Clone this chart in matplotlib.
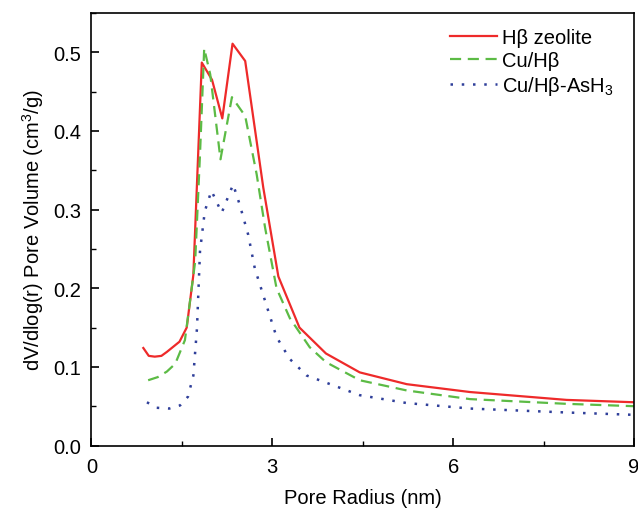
import numpy as np
import matplotlib
matplotlib.use('Agg')
import matplotlib.pyplot as plt
from matplotlib.ticker import MultipleLocator

plt.rcParams['font.family'] = ['Liberation Sans', 'DejaVu Sans']
plt.rcParams['mathtext.fontset'] = 'custom'
plt.rcParams['mathtext.rm'] = 'Liberation Sans'
plt.rcParams['mathtext.it'] = 'Liberation Sans:italic'

#pore radius (nm) and dV/dlog(r)
r_hb = [0.86, 0.95, 1.05, 1.16, 1.25, 1.46, 1.58, 1.69, 1.83, 2.0, 2.17, 2.34,
        2.55, 2.85, 3.1, 3.45, 3.89, 4.45, 5.23, 6.28, 7.88, 9.0]
v_hb = [0.124, 0.114, 0.113, 0.114, 0.119, 0.132, 0.150, 0.217, 0.487, 0.465,
        0.416, 0.511, 0.489, 0.328, 0.215, 0.150, 0.117, 0.093, 0.078, 0.068,
        0.058, 0.055]

r_cu = [0.94, 1.1, 1.25, 1.39, 1.55, 1.72, 1.80, 1.87, 1.97, 2.14, 2.33, 2.55,
        2.74, 2.88, 3.07, 3.29, 3.62, 3.89, 4.45, 5.23, 6.28, 7.88, 9.0]
v_cu = [0.083, 0.087, 0.094, 0.104, 0.134, 0.234, 0.370, 0.505, 0.472, 0.364,
        0.443, 0.419, 0.345, 0.277, 0.200, 0.162, 0.125, 0.106, 0.083, 0.070,
        0.059, 0.053, 0.050]

r_as = [0.92, 1.08, 1.29, 1.47, 1.6, 1.69, 1.75, 1.80, 1.88, 1.99, 2.16, 2.35,
        2.46, 2.6, 2.71, 2.9, 3.07, 3.29, 3.57, 3.89, 4.45, 5.23, 6.28, 7.88, 9.0]
v_as = [0.055, 0.048, 0.047, 0.051, 0.062, 0.089, 0.149, 0.247, 0.298, 0.324,
        0.296, 0.332, 0.306, 0.268, 0.225, 0.179, 0.138, 0.110, 0.089, 0.080,
        0.064, 0.054, 0.047, 0.042, 0.039]

labels = [u'H\u03b2 zeolite', u'Cu/H\u03b2', u'Cu/H\u03b2-AsH$\\mathregular{_3}$']

fig = plt.figure(figsize=(6.38, 5.1), dpi=100)
ax = fig.add_axes([0.1434, 0.1245, 0.8503, 0.848])

ax.plot(r_hb, v_hb, color='#ee2a2a', lw=1.6, ls='-', label=labels[0])
ax.plot(r_cu, v_cu, color='#5cbb45', lw=1.6, ls=(0, (5, 3)), label=labels[1])
ax.plot(r_as, v_as, color='#2f3f9a', lw=1.8, ls=(0, (1, 3.5)), label=labels[2])

ax.set_xlim(0, 9)
ax.set_ylim(0, 0.55)
ax.xaxis.set_major_locator(MultipleLocator(3))
ax.xaxis.set_minor_locator(MultipleLocator(1.5))
ax.yaxis.set_major_locator(MultipleLocator(0.1))
ax.yaxis.set_minor_locator(MultipleLocator(0.05))
ax.yaxis.set_major_formatter(matplotlib.ticker.FormatStrFormatter('%.1f'))
ax.tick_params(which='major', direction='in', length=6, width=1.2, labelsize=14.5)
ax.tick_params(axis='x', which='major', pad=8.5)
ax.tick_params(axis='y', which='major', pad=7.5)
ax.tick_params(which='minor', direction='in', length=3.5, width=1.0)
for s in ax.spines.values():
    s.set_linewidth(1.2)

ax.set_xlabel('Pore Radius (nm)', fontsize=14.5, labelpad=8.5)
ax.set_ylabel('dV/dlog(r) Pore Volume (cm$\\mathregular{^3}$/g)', fontsize=14.5, labelpad=5)

ax.legend(loc='upper right', frameon=False, fontsize=14.5, handlelength=2.3,
          handletextpad=0.25, labelspacing=0.2, borderaxespad=0.5,
          bbox_to_anchor=(0.995, 1.007))

fig.savefig('out.png', dpi=100)
